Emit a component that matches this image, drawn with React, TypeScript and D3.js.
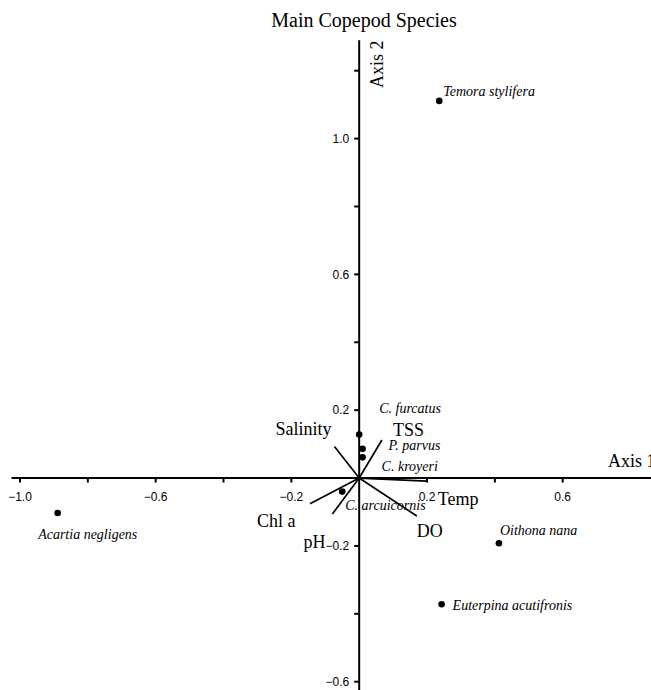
import React from "react";
import * as d3 from "d3";

// ---- data ----
const speciesNames = ["Temora stylifera", "Acartia negligens", "Oithona nana", "Euterpina acutifronis", "C. furcatus", "P. parvus", "C. kroyeri", "C. arcuicornis"];
const speciesAxis1 = [0.236, -0.889, 0.412, 0.243, 0.0, 0.01, 0.01, -0.05];
const speciesAxis2 = [1.111, -0.103, -0.192, -0.372, 0.128, 0.086, 0.061, -0.04];

const envNames = ["Salinity", "TSS", "Temp", "DO", "Chl a", "pH"];
const envAxis1 = [-0.073, 0.067, 0.199, 0.17, -0.145, -0.079];
const envAxis2 = [0.093, 0.112, -0.009, -0.112, -0.076, -0.106];

const xTicks = [-1.0, -0.8, -0.6, -0.4, -0.2, 0.2, 0.4, 0.6];
const yTicks = [-0.6, -0.4, -0.2, 0.2, 0.4, 0.6, 0.8, 1.0, 1.2];
const xTickLabels = [-1.0, -0.6, -0.2, 0.2, 0.6];
const yTickLabels = [-0.6, -0.2, 0.2, 0.6, 1.0];

const title = "Main Copepod Species";

// ---- layout (label offsets in px, relative to marks) ----
const speciesLabelOffset: [number, number][] = [
  [4, -5], [-19.5, 26], [1, -8], [11, 6], [20, -22], [26, 1], [19, 14], [3, 18],
];
const envLabelOffset: [number, number][] = [
  [-59, -11], [11, -4], [11, 24], [0, 21], [-53, 23], [-29, 34],
];

export default function App() {
  const W = 651, H = 690;
  const x = d3.scaleLinear().domain([-1.0, 0.6]).range([20, 562.7]);
  const y = d3.scaleLinear().domain([-0.6, 1.2]).range([681.7, 70.7]);
  const x0 = x(0), y0 = y(0);
  const serif = "'Liberation Serif', 'Times New Roman', serif";
  const sans = "'Liberation Sans', Arial, sans-serif";
  const fmt = d3.format(".1f");

  return (
    <svg width={W} height={H} style={{ position: "absolute", left: 0, top: 0, background: "#fff" }}>
      <rect x={0} y={0} width={W} height={H} fill="#fff" />
      <text x={364} y={26.5} textAnchor="middle" fontFamily={serif} fontSize={20} fill="#000">{title}</text>

      {/* axes */}
      <line x1={x(-1.025)} x2={W} y1={y0} y2={y0} stroke="#000" strokeWidth={2} />
      <line x1={x0} x2={x0} y1={y(1.29)} y2={H} stroke="#000" strokeWidth={2} />

      {xTicks.map((t) => (
        <line key={"xt" + t} x1={x(t)} x2={x(t)} y1={y0} y2={y0 + 4.5} stroke="#000" strokeWidth={2} />
      ))}
      {yTicks.map((t) => (
        <line key={"yt" + t} x1={x0 - 5} x2={x0} y1={y(t)} y2={y(t)} stroke="#000" strokeWidth={2} />
      ))}
      {xTickLabels.map((t) => (
        <text key={"xl" + t} x={x(t)} y={y0 + 23} textAnchor="middle" fontFamily={sans} fontSize={12} fill="#000">{fmt(t)}</text>
      ))}
      {yTickLabels.map((t) => (
        <text key={"yl" + t} x={x0 - 10} y={y(t) + 4.3} textAnchor="end" fontFamily={sans} fontSize={12} fill="#000">{fmt(t)}</text>
      ))}

      <text x={608} y={467} fontFamily={serif} fontSize={18} fill="#000">Axis 1</text>
      <text transform={`translate(383,88) rotate(-90)`} fontFamily={serif} fontSize={18} fill="#000">Axis 2</text>

      {/* environmental vectors */}
      {envNames.map((n, i) => (
        <g key={n}>
          <line x1={x0} y1={y0} x2={x(envAxis1[i])} y2={y(envAxis2[i])} stroke="#000" strokeWidth={1.7} />
          <text x={x(envAxis1[i]) + envLabelOffset[i][0]} y={y(envAxis2[i]) + envLabelOffset[i][1]} fontFamily={serif} fontSize={18} fill="#000">{n}</text>
        </g>
      ))}

      {/* species */}
      {speciesNames.map((n, i) => (
        <g key={n}>
          <circle cx={x(speciesAxis1[i])} cy={y(speciesAxis2[i])} r={3.3} fill="#000" />
          <text x={x(speciesAxis1[i]) + speciesLabelOffset[i][0]} y={y(speciesAxis2[i]) + speciesLabelOffset[i][1]} fontFamily={serif} fontStyle="italic" fontSize={14} fill="#000">{n}</text>
        </g>
      ))}
    </svg>
  );
}
